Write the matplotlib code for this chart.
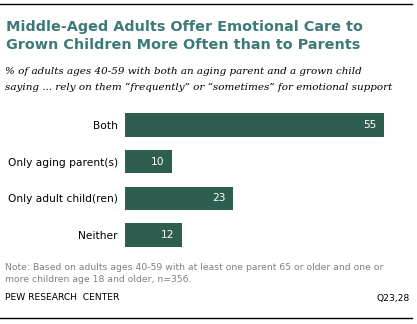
import matplotlib.pyplot as plt
from matplotlib.lines import Line2D

categories = ['Both', 'Only aging parent(s)', 'Only adult child(ren)', 'Neither']
values = [55, 10, 23, 12]

W, H = 417, 324
BAR_COLOR = '#2e5e50'
TITLE_COLOR = '#3b7a78'


def fy(y):
    # pixel from top -> figure fraction
    return 1 - y / H


fig = plt.figure(figsize=(W / 100, H / 100), dpi=100)

# rules at top and bottom
fig.add_artist(Line2D([0, 412 / W], [fy(4), fy(4)], color='black', lw=1))
fig.add_artist(Line2D([0, 412 / W], [fy(318), fy(318)], color='black', lw=1))

fig.text(6 / W, fy(27), 'Middle-Aged Adults Offer Emotional Care to',
         fontsize=10.4, fontweight='bold', color=TITLE_COLOR, va='center')
fig.text(6 / W, fy(45), 'Grown Children More Often than to Parents',
         fontsize=10.4, fontweight='bold', color=TITLE_COLOR, va='center')
fig.text(5 / W, fy(71), '% of adults ages 40-59 with both an aging parent and a grown child',
         fontsize=7.5, style='italic', family='DejaVu Serif', va='center')
fig.text(5 / W, fy(87), 'saying ... rely on them \u201cfrequently\u201d or \u201csometimes\u201d for emotional support',
         fontsize=7.5, style='italic', family='DejaVu Serif', va='center')

# bars
x0, x1 = 125, 395
ax = fig.add_axes([x0 / W, 1 - 253.4 / H, (x1 - x0) / W, 146.8 / H])
pos = list(range(len(categories)))
ax.barh(pos, values, height=0.645, color=BAR_COLOR)
ax.set_xlim(0, (x1 - x0) / 4.71)
ax.set_ylim(3.5, -0.5)
ax.set_yticks(pos)
ax.set_yticklabels(categories, fontsize=7.7)
ax.tick_params(axis='y', length=0, pad=5)
ax.set_xticks([])
for s in ax.spines.values():
    s.set_visible(False)
for p, v in zip(pos, values):
    ax.annotate(str(v), (v, p), xytext=(-5.5, 0), textcoords='offset points',
                ha='right', va='center', color='white', fontsize=7.7)

fig.text(5 / W, fy(268), 'Note: Based on adults ages 40-59 with at least one parent 65 or older and one or',
         fontsize=6.7, color='#808080', va='center')
fig.text(5 / W, fy(280), 'more children age 18 and older, n=356.',
         fontsize=6.7, color='#808080', va='center')
fig.text(5 / W, fy(298), 'PEW RESEARCH  CENTER', fontsize=6.6, color='black', va='center')
fig.text(410 / W, fy(298), 'Q23,28', fontsize=6.6, color='black', va='center', ha='right')

fig.savefig('out.png', dpi=100)
